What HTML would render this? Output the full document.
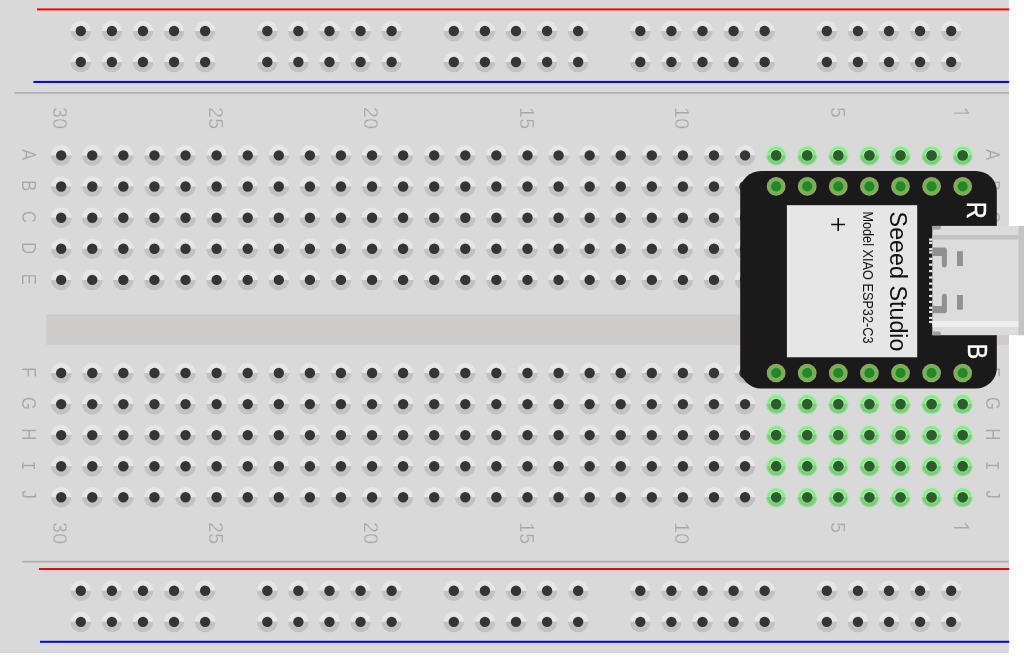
<!DOCTYPE html><html><head><meta charset="utf-8"><style>html,body{margin:0;padding:0;background:#fff;width:1024px;height:657px;overflow:hidden}svg{display:block;will-change:transform}</style></head><body>
<svg width="1024" height="657" viewBox="0 0 1024 657">
<defs>
<g id="h"><path d="M-10.3,0A10.3,10.3 0 0 1 10.3,0Z" fill="#e6e6e6"/><path d="M-10.3,0A10.3,10.3 0 0 0 10.3,0Z" fill="#c2c2c2"/><circle r="5.2" fill="#353535"/></g>
<g id="g"><path d="M-10.2,0A10.2,10.2 0 0 1 10.2,0Z" fill="#b5ecb5"/><path d="M-10.2,0A10.2,10.2 0 0 0 10.2,0Z" fill="#a3d8a3"/><path d="M-9.0,0A9.0,9.0 0 0 1 9.0,0Z" fill="#8be78b"/><path d="M-9.0,0A9.0,9.0 0 0 0 9.0,0Z" fill="#77d077"/><path d="M-6.3,0A6.3,6.3 0 0 1 6.3,0Z" fill="#b9f2b9"/><path d="M-6.3,0A6.3,6.3 0 0 0 6.3,0Z" fill="#90d890"/><circle r="5.35" fill="#2c5e2c"/></g>
<g id="p"><circle r="9.35" fill="#aca070"/><circle r="8.7" fill="#7dac5a"/><circle r="6.3" fill="#5fbf48"/><circle r="5.05" fill="#288528"/></g>
</defs>
<rect x="0" y="0" width="1008.9" height="652.95" fill="#d9d9d9"/>
<rect x="37" y="8.4" width="972.3" height="2.0" fill="#ff0000"/>
<rect x="33.4" y="80.95" width="975.8" height="2.0" fill="#0000ff"/>
<rect x="14.6" y="92.1" width="994.4" height="1.6" fill="#afacac"/>
<rect x="22.2" y="560.8" width="986.8" height="1.6" fill="#afacac"/>
<rect x="39" y="568" width="970.2" height="2.0" fill="#ff0000"/>
<rect x="40" y="640.8" width="969.2" height="2.0" fill="#0000ff"/>
<rect x="46.2" y="314.4" width="962.8" height="30.5" fill="#cecbcb"/>
<use href="#h" x="80.80" y="31.00"/>
<use href="#h" x="80.80" y="62.00"/>
<use href="#h" x="111.88" y="31.00"/>
<use href="#h" x="111.88" y="62.00"/>
<use href="#h" x="142.97" y="31.00"/>
<use href="#h" x="142.97" y="62.00"/>
<use href="#h" x="174.06" y="31.00"/>
<use href="#h" x="174.06" y="62.00"/>
<use href="#h" x="205.14" y="31.00"/>
<use href="#h" x="205.14" y="62.00"/>
<use href="#h" x="267.31" y="31.00"/>
<use href="#h" x="267.31" y="62.00"/>
<use href="#h" x="298.39" y="31.00"/>
<use href="#h" x="298.39" y="62.00"/>
<use href="#h" x="329.48" y="31.00"/>
<use href="#h" x="329.48" y="62.00"/>
<use href="#h" x="360.56" y="31.00"/>
<use href="#h" x="360.56" y="62.00"/>
<use href="#h" x="391.65" y="31.00"/>
<use href="#h" x="391.65" y="62.00"/>
<use href="#h" x="453.82" y="31.00"/>
<use href="#h" x="453.82" y="62.00"/>
<use href="#h" x="484.91" y="31.00"/>
<use href="#h" x="484.91" y="62.00"/>
<use href="#h" x="515.99" y="31.00"/>
<use href="#h" x="515.99" y="62.00"/>
<use href="#h" x="547.08" y="31.00"/>
<use href="#h" x="547.08" y="62.00"/>
<use href="#h" x="578.16" y="31.00"/>
<use href="#h" x="578.16" y="62.00"/>
<use href="#h" x="640.33" y="31.00"/>
<use href="#h" x="640.33" y="62.00"/>
<use href="#h" x="671.41" y="31.00"/>
<use href="#h" x="671.41" y="62.00"/>
<use href="#h" x="702.50" y="31.00"/>
<use href="#h" x="702.50" y="62.00"/>
<use href="#h" x="733.58" y="31.00"/>
<use href="#h" x="733.58" y="62.00"/>
<use href="#h" x="764.67" y="31.00"/>
<use href="#h" x="764.67" y="62.00"/>
<use href="#h" x="826.84" y="31.00"/>
<use href="#h" x="826.84" y="62.00"/>
<use href="#h" x="857.92" y="31.00"/>
<use href="#h" x="857.92" y="62.00"/>
<use href="#h" x="889.01" y="31.00"/>
<use href="#h" x="889.01" y="62.00"/>
<use href="#h" x="920.10" y="31.00"/>
<use href="#h" x="920.10" y="62.00"/>
<use href="#h" x="951.18" y="31.00"/>
<use href="#h" x="951.18" y="62.00"/>
<use href="#h" x="80.80" y="590.80"/>
<use href="#h" x="80.80" y="621.85"/>
<use href="#h" x="111.88" y="590.80"/>
<use href="#h" x="111.88" y="621.85"/>
<use href="#h" x="142.97" y="590.80"/>
<use href="#h" x="142.97" y="621.85"/>
<use href="#h" x="174.06" y="590.80"/>
<use href="#h" x="174.06" y="621.85"/>
<use href="#h" x="205.14" y="590.80"/>
<use href="#h" x="205.14" y="621.85"/>
<use href="#h" x="267.31" y="590.80"/>
<use href="#h" x="267.31" y="621.85"/>
<use href="#h" x="298.39" y="590.80"/>
<use href="#h" x="298.39" y="621.85"/>
<use href="#h" x="329.48" y="590.80"/>
<use href="#h" x="329.48" y="621.85"/>
<use href="#h" x="360.56" y="590.80"/>
<use href="#h" x="360.56" y="621.85"/>
<use href="#h" x="391.65" y="590.80"/>
<use href="#h" x="391.65" y="621.85"/>
<use href="#h" x="453.82" y="590.80"/>
<use href="#h" x="453.82" y="621.85"/>
<use href="#h" x="484.91" y="590.80"/>
<use href="#h" x="484.91" y="621.85"/>
<use href="#h" x="515.99" y="590.80"/>
<use href="#h" x="515.99" y="621.85"/>
<use href="#h" x="547.08" y="590.80"/>
<use href="#h" x="547.08" y="621.85"/>
<use href="#h" x="578.16" y="590.80"/>
<use href="#h" x="578.16" y="621.85"/>
<use href="#h" x="640.33" y="590.80"/>
<use href="#h" x="640.33" y="621.85"/>
<use href="#h" x="671.41" y="590.80"/>
<use href="#h" x="671.41" y="621.85"/>
<use href="#h" x="702.50" y="590.80"/>
<use href="#h" x="702.50" y="621.85"/>
<use href="#h" x="733.58" y="590.80"/>
<use href="#h" x="733.58" y="621.85"/>
<use href="#h" x="764.67" y="590.80"/>
<use href="#h" x="764.67" y="621.85"/>
<use href="#h" x="826.84" y="590.80"/>
<use href="#h" x="826.84" y="621.85"/>
<use href="#h" x="857.92" y="590.80"/>
<use href="#h" x="857.92" y="621.85"/>
<use href="#h" x="889.01" y="590.80"/>
<use href="#h" x="889.01" y="621.85"/>
<use href="#h" x="920.10" y="590.80"/>
<use href="#h" x="920.10" y="621.85"/>
<use href="#h" x="951.18" y="590.80"/>
<use href="#h" x="951.18" y="621.85"/>
<use href="#g" x="962.67" y="155.40"/>
<use href="#g" x="931.58" y="155.40"/>
<use href="#g" x="900.50" y="155.40"/>
<use href="#g" x="869.41" y="155.40"/>
<use href="#g" x="838.33" y="155.40"/>
<use href="#g" x="807.24" y="155.40"/>
<use href="#g" x="776.16" y="155.40"/>
<use href="#h" x="745.07" y="155.40"/>
<use href="#h" x="713.99" y="155.40"/>
<use href="#h" x="682.90" y="155.40"/>
<use href="#h" x="651.82" y="155.40"/>
<use href="#h" x="620.73" y="155.40"/>
<use href="#h" x="589.65" y="155.40"/>
<use href="#h" x="558.56" y="155.40"/>
<use href="#h" x="527.48" y="155.40"/>
<use href="#h" x="496.39" y="155.40"/>
<use href="#h" x="465.31" y="155.40"/>
<use href="#h" x="434.22" y="155.40"/>
<use href="#h" x="403.13" y="155.40"/>
<use href="#h" x="372.05" y="155.40"/>
<use href="#h" x="340.96" y="155.40"/>
<use href="#h" x="309.88" y="155.40"/>
<use href="#h" x="278.80" y="155.40"/>
<use href="#h" x="247.71" y="155.40"/>
<use href="#h" x="216.62" y="155.40"/>
<use href="#h" x="185.54" y="155.40"/>
<use href="#h" x="154.45" y="155.40"/>
<use href="#h" x="123.37" y="155.40"/>
<use href="#h" x="92.28" y="155.40"/>
<use href="#h" x="61.20" y="155.40"/>
<use href="#h" x="962.67" y="186.50"/>
<use href="#h" x="931.58" y="186.50"/>
<use href="#h" x="900.50" y="186.50"/>
<use href="#h" x="869.41" y="186.50"/>
<use href="#h" x="838.33" y="186.50"/>
<use href="#h" x="807.24" y="186.50"/>
<use href="#h" x="776.16" y="186.50"/>
<use href="#h" x="745.07" y="186.50"/>
<use href="#h" x="713.99" y="186.50"/>
<use href="#h" x="682.90" y="186.50"/>
<use href="#h" x="651.82" y="186.50"/>
<use href="#h" x="620.73" y="186.50"/>
<use href="#h" x="589.65" y="186.50"/>
<use href="#h" x="558.56" y="186.50"/>
<use href="#h" x="527.48" y="186.50"/>
<use href="#h" x="496.39" y="186.50"/>
<use href="#h" x="465.31" y="186.50"/>
<use href="#h" x="434.22" y="186.50"/>
<use href="#h" x="403.13" y="186.50"/>
<use href="#h" x="372.05" y="186.50"/>
<use href="#h" x="340.96" y="186.50"/>
<use href="#h" x="309.88" y="186.50"/>
<use href="#h" x="278.80" y="186.50"/>
<use href="#h" x="247.71" y="186.50"/>
<use href="#h" x="216.62" y="186.50"/>
<use href="#h" x="185.54" y="186.50"/>
<use href="#h" x="154.45" y="186.50"/>
<use href="#h" x="123.37" y="186.50"/>
<use href="#h" x="92.28" y="186.50"/>
<use href="#h" x="61.20" y="186.50"/>
<use href="#h" x="962.67" y="217.70"/>
<use href="#h" x="931.58" y="217.70"/>
<use href="#h" x="900.50" y="217.70"/>
<use href="#h" x="869.41" y="217.70"/>
<use href="#h" x="838.33" y="217.70"/>
<use href="#h" x="807.24" y="217.70"/>
<use href="#h" x="776.16" y="217.70"/>
<use href="#h" x="745.07" y="217.70"/>
<use href="#h" x="713.99" y="217.70"/>
<use href="#h" x="682.90" y="217.70"/>
<use href="#h" x="651.82" y="217.70"/>
<use href="#h" x="620.73" y="217.70"/>
<use href="#h" x="589.65" y="217.70"/>
<use href="#h" x="558.56" y="217.70"/>
<use href="#h" x="527.48" y="217.70"/>
<use href="#h" x="496.39" y="217.70"/>
<use href="#h" x="465.31" y="217.70"/>
<use href="#h" x="434.22" y="217.70"/>
<use href="#h" x="403.13" y="217.70"/>
<use href="#h" x="372.05" y="217.70"/>
<use href="#h" x="340.96" y="217.70"/>
<use href="#h" x="309.88" y="217.70"/>
<use href="#h" x="278.80" y="217.70"/>
<use href="#h" x="247.71" y="217.70"/>
<use href="#h" x="216.62" y="217.70"/>
<use href="#h" x="185.54" y="217.70"/>
<use href="#h" x="154.45" y="217.70"/>
<use href="#h" x="123.37" y="217.70"/>
<use href="#h" x="92.28" y="217.70"/>
<use href="#h" x="61.20" y="217.70"/>
<use href="#h" x="962.67" y="248.80"/>
<use href="#h" x="931.58" y="248.80"/>
<use href="#h" x="900.50" y="248.80"/>
<use href="#h" x="869.41" y="248.80"/>
<use href="#h" x="838.33" y="248.80"/>
<use href="#h" x="807.24" y="248.80"/>
<use href="#h" x="776.16" y="248.80"/>
<use href="#h" x="745.07" y="248.80"/>
<use href="#h" x="713.99" y="248.80"/>
<use href="#h" x="682.90" y="248.80"/>
<use href="#h" x="651.82" y="248.80"/>
<use href="#h" x="620.73" y="248.80"/>
<use href="#h" x="589.65" y="248.80"/>
<use href="#h" x="558.56" y="248.80"/>
<use href="#h" x="527.48" y="248.80"/>
<use href="#h" x="496.39" y="248.80"/>
<use href="#h" x="465.31" y="248.80"/>
<use href="#h" x="434.22" y="248.80"/>
<use href="#h" x="403.13" y="248.80"/>
<use href="#h" x="372.05" y="248.80"/>
<use href="#h" x="340.96" y="248.80"/>
<use href="#h" x="309.88" y="248.80"/>
<use href="#h" x="278.80" y="248.80"/>
<use href="#h" x="247.71" y="248.80"/>
<use href="#h" x="216.62" y="248.80"/>
<use href="#h" x="185.54" y="248.80"/>
<use href="#h" x="154.45" y="248.80"/>
<use href="#h" x="123.37" y="248.80"/>
<use href="#h" x="92.28" y="248.80"/>
<use href="#h" x="61.20" y="248.80"/>
<use href="#h" x="962.67" y="279.90"/>
<use href="#h" x="931.58" y="279.90"/>
<use href="#h" x="900.50" y="279.90"/>
<use href="#h" x="869.41" y="279.90"/>
<use href="#h" x="838.33" y="279.90"/>
<use href="#h" x="807.24" y="279.90"/>
<use href="#h" x="776.16" y="279.90"/>
<use href="#h" x="745.07" y="279.90"/>
<use href="#h" x="713.99" y="279.90"/>
<use href="#h" x="682.90" y="279.90"/>
<use href="#h" x="651.82" y="279.90"/>
<use href="#h" x="620.73" y="279.90"/>
<use href="#h" x="589.65" y="279.90"/>
<use href="#h" x="558.56" y="279.90"/>
<use href="#h" x="527.48" y="279.90"/>
<use href="#h" x="496.39" y="279.90"/>
<use href="#h" x="465.31" y="279.90"/>
<use href="#h" x="434.22" y="279.90"/>
<use href="#h" x="403.13" y="279.90"/>
<use href="#h" x="372.05" y="279.90"/>
<use href="#h" x="340.96" y="279.90"/>
<use href="#h" x="309.88" y="279.90"/>
<use href="#h" x="278.80" y="279.90"/>
<use href="#h" x="247.71" y="279.90"/>
<use href="#h" x="216.62" y="279.90"/>
<use href="#h" x="185.54" y="279.90"/>
<use href="#h" x="154.45" y="279.90"/>
<use href="#h" x="123.37" y="279.90"/>
<use href="#h" x="92.28" y="279.90"/>
<use href="#h" x="61.20" y="279.90"/>
<use href="#g" x="962.67" y="373.00"/>
<use href="#g" x="931.58" y="373.00"/>
<use href="#g" x="900.50" y="373.00"/>
<use href="#g" x="869.41" y="373.00"/>
<use href="#g" x="838.33" y="373.00"/>
<use href="#g" x="807.24" y="373.00"/>
<use href="#g" x="776.16" y="373.00"/>
<use href="#h" x="745.07" y="373.00"/>
<use href="#h" x="713.99" y="373.00"/>
<use href="#h" x="682.90" y="373.00"/>
<use href="#h" x="651.82" y="373.00"/>
<use href="#h" x="620.73" y="373.00"/>
<use href="#h" x="589.65" y="373.00"/>
<use href="#h" x="558.56" y="373.00"/>
<use href="#h" x="527.48" y="373.00"/>
<use href="#h" x="496.39" y="373.00"/>
<use href="#h" x="465.31" y="373.00"/>
<use href="#h" x="434.22" y="373.00"/>
<use href="#h" x="403.13" y="373.00"/>
<use href="#h" x="372.05" y="373.00"/>
<use href="#h" x="340.96" y="373.00"/>
<use href="#h" x="309.88" y="373.00"/>
<use href="#h" x="278.80" y="373.00"/>
<use href="#h" x="247.71" y="373.00"/>
<use href="#h" x="216.62" y="373.00"/>
<use href="#h" x="185.54" y="373.00"/>
<use href="#h" x="154.45" y="373.00"/>
<use href="#h" x="123.37" y="373.00"/>
<use href="#h" x="92.28" y="373.00"/>
<use href="#h" x="61.20" y="373.00"/>
<use href="#g" x="962.67" y="404.10"/>
<use href="#g" x="931.58" y="404.10"/>
<use href="#g" x="900.50" y="404.10"/>
<use href="#g" x="869.41" y="404.10"/>
<use href="#g" x="838.33" y="404.10"/>
<use href="#g" x="807.24" y="404.10"/>
<use href="#g" x="776.16" y="404.10"/>
<use href="#h" x="745.07" y="404.10"/>
<use href="#h" x="713.99" y="404.10"/>
<use href="#h" x="682.90" y="404.10"/>
<use href="#h" x="651.82" y="404.10"/>
<use href="#h" x="620.73" y="404.10"/>
<use href="#h" x="589.65" y="404.10"/>
<use href="#h" x="558.56" y="404.10"/>
<use href="#h" x="527.48" y="404.10"/>
<use href="#h" x="496.39" y="404.10"/>
<use href="#h" x="465.31" y="404.10"/>
<use href="#h" x="434.22" y="404.10"/>
<use href="#h" x="403.13" y="404.10"/>
<use href="#h" x="372.05" y="404.10"/>
<use href="#h" x="340.96" y="404.10"/>
<use href="#h" x="309.88" y="404.10"/>
<use href="#h" x="278.80" y="404.10"/>
<use href="#h" x="247.71" y="404.10"/>
<use href="#h" x="216.62" y="404.10"/>
<use href="#h" x="185.54" y="404.10"/>
<use href="#h" x="154.45" y="404.10"/>
<use href="#h" x="123.37" y="404.10"/>
<use href="#h" x="92.28" y="404.10"/>
<use href="#h" x="61.20" y="404.10"/>
<use href="#g" x="962.67" y="435.10"/>
<use href="#g" x="931.58" y="435.10"/>
<use href="#g" x="900.50" y="435.10"/>
<use href="#g" x="869.41" y="435.10"/>
<use href="#g" x="838.33" y="435.10"/>
<use href="#g" x="807.24" y="435.10"/>
<use href="#g" x="776.16" y="435.10"/>
<use href="#h" x="745.07" y="435.10"/>
<use href="#h" x="713.99" y="435.10"/>
<use href="#h" x="682.90" y="435.10"/>
<use href="#h" x="651.82" y="435.10"/>
<use href="#h" x="620.73" y="435.10"/>
<use href="#h" x="589.65" y="435.10"/>
<use href="#h" x="558.56" y="435.10"/>
<use href="#h" x="527.48" y="435.10"/>
<use href="#h" x="496.39" y="435.10"/>
<use href="#h" x="465.31" y="435.10"/>
<use href="#h" x="434.22" y="435.10"/>
<use href="#h" x="403.13" y="435.10"/>
<use href="#h" x="372.05" y="435.10"/>
<use href="#h" x="340.96" y="435.10"/>
<use href="#h" x="309.88" y="435.10"/>
<use href="#h" x="278.80" y="435.10"/>
<use href="#h" x="247.71" y="435.10"/>
<use href="#h" x="216.62" y="435.10"/>
<use href="#h" x="185.54" y="435.10"/>
<use href="#h" x="154.45" y="435.10"/>
<use href="#h" x="123.37" y="435.10"/>
<use href="#h" x="92.28" y="435.10"/>
<use href="#h" x="61.20" y="435.10"/>
<use href="#g" x="962.67" y="466.20"/>
<use href="#g" x="931.58" y="466.20"/>
<use href="#g" x="900.50" y="466.20"/>
<use href="#g" x="869.41" y="466.20"/>
<use href="#g" x="838.33" y="466.20"/>
<use href="#g" x="807.24" y="466.20"/>
<use href="#g" x="776.16" y="466.20"/>
<use href="#h" x="745.07" y="466.20"/>
<use href="#h" x="713.99" y="466.20"/>
<use href="#h" x="682.90" y="466.20"/>
<use href="#h" x="651.82" y="466.20"/>
<use href="#h" x="620.73" y="466.20"/>
<use href="#h" x="589.65" y="466.20"/>
<use href="#h" x="558.56" y="466.20"/>
<use href="#h" x="527.48" y="466.20"/>
<use href="#h" x="496.39" y="466.20"/>
<use href="#h" x="465.31" y="466.20"/>
<use href="#h" x="434.22" y="466.20"/>
<use href="#h" x="403.13" y="466.20"/>
<use href="#h" x="372.05" y="466.20"/>
<use href="#h" x="340.96" y="466.20"/>
<use href="#h" x="309.88" y="466.20"/>
<use href="#h" x="278.80" y="466.20"/>
<use href="#h" x="247.71" y="466.20"/>
<use href="#h" x="216.62" y="466.20"/>
<use href="#h" x="185.54" y="466.20"/>
<use href="#h" x="154.45" y="466.20"/>
<use href="#h" x="123.37" y="466.20"/>
<use href="#h" x="92.28" y="466.20"/>
<use href="#h" x="61.20" y="466.20"/>
<use href="#g" x="962.67" y="497.30"/>
<use href="#g" x="931.58" y="497.30"/>
<use href="#g" x="900.50" y="497.30"/>
<use href="#g" x="869.41" y="497.30"/>
<use href="#g" x="838.33" y="497.30"/>
<use href="#g" x="807.24" y="497.30"/>
<use href="#g" x="776.16" y="497.30"/>
<use href="#h" x="745.07" y="497.30"/>
<use href="#h" x="713.99" y="497.30"/>
<use href="#h" x="682.90" y="497.30"/>
<use href="#h" x="651.82" y="497.30"/>
<use href="#h" x="620.73" y="497.30"/>
<use href="#h" x="589.65" y="497.30"/>
<use href="#h" x="558.56" y="497.30"/>
<use href="#h" x="527.48" y="497.30"/>
<use href="#h" x="496.39" y="497.30"/>
<use href="#h" x="465.31" y="497.30"/>
<use href="#h" x="434.22" y="497.30"/>
<use href="#h" x="403.13" y="497.30"/>
<use href="#h" x="372.05" y="497.30"/>
<use href="#h" x="340.96" y="497.30"/>
<use href="#h" x="309.88" y="497.30"/>
<use href="#h" x="278.80" y="497.30"/>
<use href="#h" x="247.71" y="497.30"/>
<use href="#h" x="216.62" y="497.30"/>
<use href="#h" x="185.54" y="497.30"/>
<use href="#h" x="154.45" y="497.30"/>
<use href="#h" x="123.37" y="497.30"/>
<use href="#h" x="92.28" y="497.30"/>
<use href="#h" x="61.20" y="497.30"/>
<path d="M954.5,113.1H968.6L965.4,109.0" stroke="#acacac" stroke-width="1.4" fill="none" stroke-linecap="round" stroke-linejoin="round"/>
<path d="M954.5,527.7H968.6L965.4,523.6" stroke="#acacac" stroke-width="1.4" fill="none" stroke-linecap="round" stroke-linejoin="round"/>
<text transform="translate(53.42,106.90) rotate(90)" font-family="Liberation Sans, sans-serif" font-size="19.5" fill="#a7a7a7" stroke="#d9d9d9" stroke-width="0.3" letter-spacing="0.5" x="0" y="0">30</text>
<text transform="translate(53.42,521.90) rotate(90)" font-family="Liberation Sans, sans-serif" font-size="19.5" fill="#a7a7a7" stroke="#d9d9d9" stroke-width="0.3" letter-spacing="0.5" x="0" y="0">30</text>
<text transform="translate(208.84,106.90) rotate(90)" font-family="Liberation Sans, sans-serif" font-size="19.5" fill="#a7a7a7" stroke="#d9d9d9" stroke-width="0.3" letter-spacing="0.5" x="0" y="0">25</text>
<text transform="translate(208.84,521.90) rotate(90)" font-family="Liberation Sans, sans-serif" font-size="19.5" fill="#a7a7a7" stroke="#d9d9d9" stroke-width="0.3" letter-spacing="0.5" x="0" y="0">25</text>
<text transform="translate(364.27,106.90) rotate(90)" font-family="Liberation Sans, sans-serif" font-size="19.5" fill="#a7a7a7" stroke="#d9d9d9" stroke-width="0.3" letter-spacing="0.5" x="0" y="0">20</text>
<text transform="translate(364.27,521.90) rotate(90)" font-family="Liberation Sans, sans-serif" font-size="19.5" fill="#a7a7a7" stroke="#d9d9d9" stroke-width="0.3" letter-spacing="0.5" x="0" y="0">20</text>
<text transform="translate(519.69,106.90) rotate(90)" font-family="Liberation Sans, sans-serif" font-size="19.5" fill="#a7a7a7" stroke="#d9d9d9" stroke-width="0.3" letter-spacing="0.5" x="0" y="0">15</text>
<text transform="translate(519.69,521.90) rotate(90)" font-family="Liberation Sans, sans-serif" font-size="19.5" fill="#a7a7a7" stroke="#d9d9d9" stroke-width="0.3" letter-spacing="0.5" x="0" y="0">15</text>
<text transform="translate(675.12,106.90) rotate(90)" font-family="Liberation Sans, sans-serif" font-size="19.5" fill="#a7a7a7" stroke="#d9d9d9" stroke-width="0.3" letter-spacing="0.5" x="0" y="0">10</text>
<text transform="translate(675.12,521.90) rotate(90)" font-family="Liberation Sans, sans-serif" font-size="19.5" fill="#a7a7a7" stroke="#d9d9d9" stroke-width="0.3" letter-spacing="0.5" x="0" y="0">10</text>
<text transform="translate(830.54,106.90) rotate(90)" font-family="Liberation Sans, sans-serif" font-size="19.5" fill="#a7a7a7" stroke="#d9d9d9" stroke-width="0.3" letter-spacing="0.5" x="0" y="0">5</text>
<text transform="translate(830.54,521.90) rotate(90)" font-family="Liberation Sans, sans-serif" font-size="19.5" fill="#a7a7a7" stroke="#d9d9d9" stroke-width="0.3" letter-spacing="0.5" x="0" y="0">5</text>
<text transform="translate(21.90,154.70) rotate(90) scale(0.78,1)" font-family="Liberation Sans, sans-serif" font-size="21" fill="#a7a7a7" stroke="#d9d9d9" stroke-width="0.15" text-anchor="middle" x="0" y="0">A</text>
<text transform="translate(985.50,154.70) rotate(90) scale(0.78,1)" font-family="Liberation Sans, sans-serif" font-size="21" fill="#a7a7a7" stroke="#d9d9d9" stroke-width="0.15" text-anchor="middle" x="0" y="0">A</text>
<text transform="translate(21.90,185.80) rotate(90) scale(0.78,1)" font-family="Liberation Sans, sans-serif" font-size="21" fill="#a7a7a7" stroke="#d9d9d9" stroke-width="0.15" text-anchor="middle" x="0" y="0">B</text>
<text transform="translate(985.50,185.80) rotate(90) scale(0.78,1)" font-family="Liberation Sans, sans-serif" font-size="21" fill="#a7a7a7" stroke="#d9d9d9" stroke-width="0.15" text-anchor="middle" x="0" y="0">B</text>
<text transform="translate(21.90,217.00) rotate(90) scale(0.78,1)" font-family="Liberation Sans, sans-serif" font-size="21" fill="#a7a7a7" stroke="#d9d9d9" stroke-width="0.15" text-anchor="middle" x="0" y="0">C</text>
<text transform="translate(985.50,217.00) rotate(90) scale(0.78,1)" font-family="Liberation Sans, sans-serif" font-size="21" fill="#a7a7a7" stroke="#d9d9d9" stroke-width="0.15" text-anchor="middle" x="0" y="0">C</text>
<text transform="translate(21.90,248.10) rotate(90) scale(0.78,1)" font-family="Liberation Sans, sans-serif" font-size="21" fill="#a7a7a7" stroke="#d9d9d9" stroke-width="0.15" text-anchor="middle" x="0" y="0">D</text>
<text transform="translate(985.50,248.10) rotate(90) scale(0.78,1)" font-family="Liberation Sans, sans-serif" font-size="21" fill="#a7a7a7" stroke="#d9d9d9" stroke-width="0.15" text-anchor="middle" x="0" y="0">D</text>
<text transform="translate(21.90,279.20) rotate(90) scale(0.78,1)" font-family="Liberation Sans, sans-serif" font-size="21" fill="#a7a7a7" stroke="#d9d9d9" stroke-width="0.15" text-anchor="middle" x="0" y="0">E</text>
<text transform="translate(985.50,279.20) rotate(90) scale(0.78,1)" font-family="Liberation Sans, sans-serif" font-size="21" fill="#a7a7a7" stroke="#d9d9d9" stroke-width="0.15" text-anchor="middle" x="0" y="0">E</text>
<text transform="translate(21.90,372.30) rotate(90) scale(0.78,1)" font-family="Liberation Sans, sans-serif" font-size="21" fill="#a7a7a7" stroke="#d9d9d9" stroke-width="0.15" text-anchor="middle" x="0" y="0">F</text>
<text transform="translate(985.50,372.30) rotate(90) scale(0.78,1)" font-family="Liberation Sans, sans-serif" font-size="21" fill="#a7a7a7" stroke="#d9d9d9" stroke-width="0.15" text-anchor="middle" x="0" y="0">F</text>
<text transform="translate(21.90,403.40) rotate(90) scale(0.78,1)" font-family="Liberation Sans, sans-serif" font-size="21" fill="#a7a7a7" stroke="#d9d9d9" stroke-width="0.15" text-anchor="middle" x="0" y="0">G</text>
<text transform="translate(985.50,403.40) rotate(90) scale(0.78,1)" font-family="Liberation Sans, sans-serif" font-size="21" fill="#a7a7a7" stroke="#d9d9d9" stroke-width="0.15" text-anchor="middle" x="0" y="0">G</text>
<text transform="translate(21.90,434.40) rotate(90) scale(0.78,1)" font-family="Liberation Sans, sans-serif" font-size="21" fill="#a7a7a7" stroke="#d9d9d9" stroke-width="0.15" text-anchor="middle" x="0" y="0">H</text>
<text transform="translate(985.50,434.40) rotate(90) scale(0.78,1)" font-family="Liberation Sans, sans-serif" font-size="21" fill="#a7a7a7" stroke="#d9d9d9" stroke-width="0.15" text-anchor="middle" x="0" y="0">H</text>
<text transform="translate(21.90,465.50) rotate(90) scale(0.78,1)" font-family="Liberation Mono, monospace" font-size="21" fill="#a7a7a7" stroke="#d9d9d9" stroke-width="0.15" text-anchor="middle" x="0" y="0">I</text>
<text transform="translate(985.50,465.50) rotate(90) scale(0.78,1)" font-family="Liberation Mono, monospace" font-size="21" fill="#a7a7a7" stroke="#d9d9d9" stroke-width="0.15" text-anchor="middle" x="0" y="0">I</text>
<text transform="translate(21.90,494.60) rotate(90) scale(0.78,1)" font-family="Liberation Sans, sans-serif" font-size="21" fill="#a7a7a7" stroke="#d9d9d9" stroke-width="0.15" text-anchor="middle" x="0" y="0">J</text>
<text transform="translate(985.50,494.60) rotate(90) scale(0.78,1)" font-family="Liberation Sans, sans-serif" font-size="21" fill="#a7a7a7" stroke="#d9d9d9" stroke-width="0.15" text-anchor="middle" x="0" y="0">J</text>
<circle cx="744.9" cy="186.5" r="5.6" fill="#2e2e2e"/><circle cx="744.9" cy="373" r="5.6" fill="#2e2e2e"/>
<rect x="740.2" y="171" width="256.6" height="217.4" rx="21" ry="20" fill="#1a1a1a"/>
<rect x="786.9" y="205.2" width="130.3" height="152.1" fill="#e6e6e6"/>
<use href="#p" x="962.67" y="186.4"/>
<use href="#p" x="962.67" y="373.0"/>
<use href="#p" x="931.58" y="186.4"/>
<use href="#p" x="931.58" y="373.0"/>
<use href="#p" x="900.50" y="186.4"/>
<use href="#p" x="900.50" y="373.0"/>
<use href="#p" x="869.41" y="186.4"/>
<use href="#p" x="869.41" y="373.0"/>
<use href="#p" x="838.33" y="186.4"/>
<use href="#p" x="838.33" y="373.0"/>
<use href="#p" x="807.24" y="186.4"/>
<use href="#p" x="807.24" y="373.0"/>
<use href="#p" x="776.16" y="186.4"/>
<use href="#p" x="776.16" y="373.0"/>
<path d="M831.2,224.5H845.1M838.2,218V231" stroke="#111" stroke-width="1.6" fill="none"/>
<text transform="translate(890.3,211.6) rotate(90)" font-family="Liberation Sans, sans-serif" font-size="23.3" fill="#111">Seeed Studio</text>
<text transform="translate(862.9,211.4) rotate(90) scale(0.89,1)" font-family="Liberation Sans, sans-serif" font-size="14.3" fill="#111">Model XIAO ESP32-C3</text>
<text transform="translate(966.9,201.8) rotate(90) scale(0.88,1)" font-family="Liberation Sans, sans-serif" font-size="26.8" fill="#fff" stroke="#fff" stroke-width="0.35">R</text>
<text transform="translate(968.2,343.5) rotate(90) scale(0.88,1)" font-family="Liberation Sans, sans-serif" font-size="26.8" fill="#fff" stroke="#fff" stroke-width="0.35">B</text>
<rect x="932.3" y="225.9" width="91.7" height="109.3" fill="#dcdcdc"/>
<rect x="1018.5" y="225.9" width="5.5" height="109.3" fill="#c4c4c4"/>
<rect x="932.3" y="235" width="86.2" height="4.6" fill="#c3c3c3"/>
<rect x="932.3" y="321" width="86.2" height="6" fill="#eeeeee"/>
<path d="M932.3,225.9H941V227Q941,229.6 938,229.6H932.3Z" fill="#a0a0a0"/>
<path d="M932.3,335.2H941V334Q941,331.6 938,331.6H932.3Z" fill="#a0a0a0"/>
<path d="M932.3,247.4H944.4Q946.9,247.4 946.9,250V265Q946.9,267.4 944.4,267.4Q941.9,267.4 941.9,265V256H932.3Z" fill="#919191"/>
<path d="M932.3,313.3H944.4Q946.9,313.3 946.9,311V296Q946.9,293.7 944.4,293.7Q941.9,293.7 941.9,296V306H932.3Z" fill="#919191"/>
<rect x="957" y="251.2" width="5.9" height="14.9" fill="#919191"/>
<rect x="957" y="295" width="5.9" height="14.7" fill="#919191"/>
<rect x="929.1" y="238.5" width="3.2" height="2.2" fill="#f0f0f0"/>
<rect x="929.1" y="241.7" width="3.2" height="2.2" fill="#f0f0f0"/>
<rect x="929.1" y="248.1" width="3.2" height="2.2" fill="#f0f0f0"/>
<rect x="929.1" y="251.3" width="3.2" height="2.2" fill="#f0f0f0"/>
<rect x="929.1" y="257.7" width="3.2" height="2.2" fill="#f0f0f0"/>
<rect x="929.1" y="263.6" width="3.2" height="2.2" fill="#f0f0f0"/>
<rect x="929.1" y="270.0" width="3.2" height="2.2" fill="#f0f0f0"/>
<rect x="929.1" y="276.4" width="3.2" height="2.2" fill="#f0f0f0"/>
<rect x="929.1" y="282.5" width="3.2" height="2.2" fill="#f0f0f0"/>
<rect x="929.1" y="288.5" width="3.2" height="2.2" fill="#f0f0f0"/>
<rect x="929.1" y="294.9" width="3.2" height="2.2" fill="#f0f0f0"/>
<rect x="929.1" y="300.8" width="3.2" height="2.2" fill="#f0f0f0"/>
<rect x="929.1" y="306.7" width="3.2" height="2.2" fill="#f0f0f0"/>
<rect x="929.1" y="310.8" width="3.2" height="2.2" fill="#f0f0f0"/>
<rect x="929.1" y="316.8" width="3.2" height="2.2" fill="#f0f0f0"/>
<rect x="929.1" y="320.9" width="3.2" height="2.2" fill="#f0f0f0"/>
</svg></body></html>
